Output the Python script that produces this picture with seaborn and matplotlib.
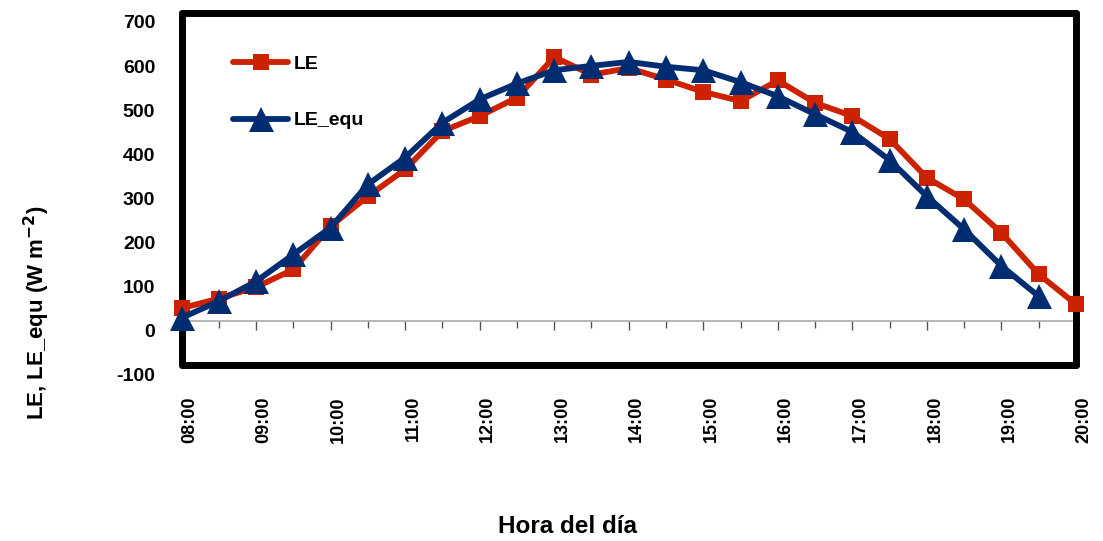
import matplotlib.pyplot as plt
import matplotlib.transforms as mtransforms
import numpy as np
import pandas as pd
import seaborn as sns

# Data (half-hourly, W m-2)
times = ['08:00', '08:30', '09:00', '09:30', '10:00', '10:30', '11:00', '11:30',
         '12:00', '12:30', '13:00', '13:30', '14:00', '14:30', '15:00', '15:30',
         '16:00', '16:30', '17:00', '17:30', '18:00', '18:30', '19:00', '19:30',
         '20:00']
le = [30, 52, 78, 118, 216, 284, 345, 432, 466, 508, 600, 560, 575, 549, 521,
      500, 547, 496, 466, 414, 326, 277, 201, 107, 39]
le_equ = [8, 46, 91, 152, 213, 311, 372, 451, 504, 540, 570, 580, 589, 578, 570,
          543, 511, 470, 430, 366, 284, 209, 126, 57, np.nan]
hour_labels = ['08:00', '09:00', '10:00', '11:00', '12:00', '13:00', '14:00',
               '15:00', '16:00', '17:00', '18:00', '19:00', '20:00']
y_ticks = [-100, 0, 100, 200, 300, 400, 500, 600, 700]

sns.set_style('white')
plt.rcParams['font.family'] = ['Liberation Sans', 'DejaVu Sans']
plt.rcParams['font.weight'] = 'bold'
for key in ['text.color', 'axes.labelcolor', 'xtick.color', 'ytick.color']:
    plt.rcParams[key] = 'black'

df = pd.DataFrame({'time': times, 'LE': le, 'LE_equ': le_equ})
df['hour'] = [int(t[:2]) + int(t[3:]) / 60 for t in df['time']]

fig = plt.figure(figsize=(11.03, 5.41), dpi=100)
ax = fig.add_axes([0.1646, 0.3244, 0.8109, 0.6516])

red = '#CC2200'
navy = '#002D72'
sns.lineplot(data=df, x='hour', y='LE', ax=ax, color=red, linewidth=4.2,
             marker='s', markersize=11, markeredgewidth=0, label='LE',
             clip_on=False, zorder=4)
sns.lineplot(data=df, x='hour', y='LE_equ', ax=ax, color=navy, linewidth=4.2,
             marker='^', markersize=18, markeredgewidth=0, label='LE_equ',
             clip_on=False, zorder=5)

ax.set_xlim(8, 20)
ax.set_ylim(-100, 700)
ax.set_yticks(y_ticks)
ax.set_yticklabels([str(v) for v in y_ticks], fontsize=14, fontweight='bold')
hour_pos = [int(h[:2]) for h in hour_labels]
ax.set_xticks(hour_pos)
ax.set_xticklabels(hour_labels, rotation=90, fontsize=13, fontweight='bold')
ax.tick_params(axis='both', length=0)
ax.tick_params(axis='y', pad=19)
ax.tick_params(axis='x', pad=22)

# shift labels slightly like in the original export
off_y = mtransforms.ScaledTranslation(0, -9 / 100, fig.dpi_scale_trans)
for lab in ax.get_yticklabels():
    lab.set_transform(lab.get_transform() + off_y)
off_x = mtransforms.ScaledTranslation(8 / 100, 0, fig.dpi_scale_trans)
for lab in ax.get_xticklabels():
    lab.set_transform(lab.get_transform() + off_x)

for sp in ax.spines.values():
    sp.set_visible(True)
    sp.set_color('black')
    sp.set_linewidth(5)
    sp.set_capstyle('round')
    sp.set_joinstyle('round')

# horizontal axis line at y = 0 with half-hour ticks
sec = ax.secondary_xaxis(0.125)
sec.set_xticks(hour_pos)
sec.set_xticks([p + 0.5 for p in hour_pos[:-1]], minor=True)
sec.set_xticklabels([])
sec.tick_params(which='major', length=6.5, width=1, color='#555555', direction='out')
sec.tick_params(which='minor', length=5, width=1, color='#555555', direction='out')
sec.spines['bottom'].set_color('#aaaaaa')
sec.spines['bottom'].set_linewidth(1.2)

ax.set_xlabel('Hora del día', fontsize=17.5, fontweight='bold')
ax.xaxis.set_label_coords(0.431, -0.425)
ax.set_ylabel('LE, LE_equ (W m$^{\\mathbf{-2}}$)', fontsize=16, fontweight='bold')
ax.yaxis.set_label_coords(-0.145, 0.15)

ax.legend(loc='upper left', bbox_to_anchor=(0.0576, 0.88), frameon=False,
          fontsize=14, handlelength=2.85, labelspacing=2.0, handletextpad=0.25,
          numpoints=1, borderpad=0, borderaxespad=0)

fig.savefig('out.png', dpi=100)
